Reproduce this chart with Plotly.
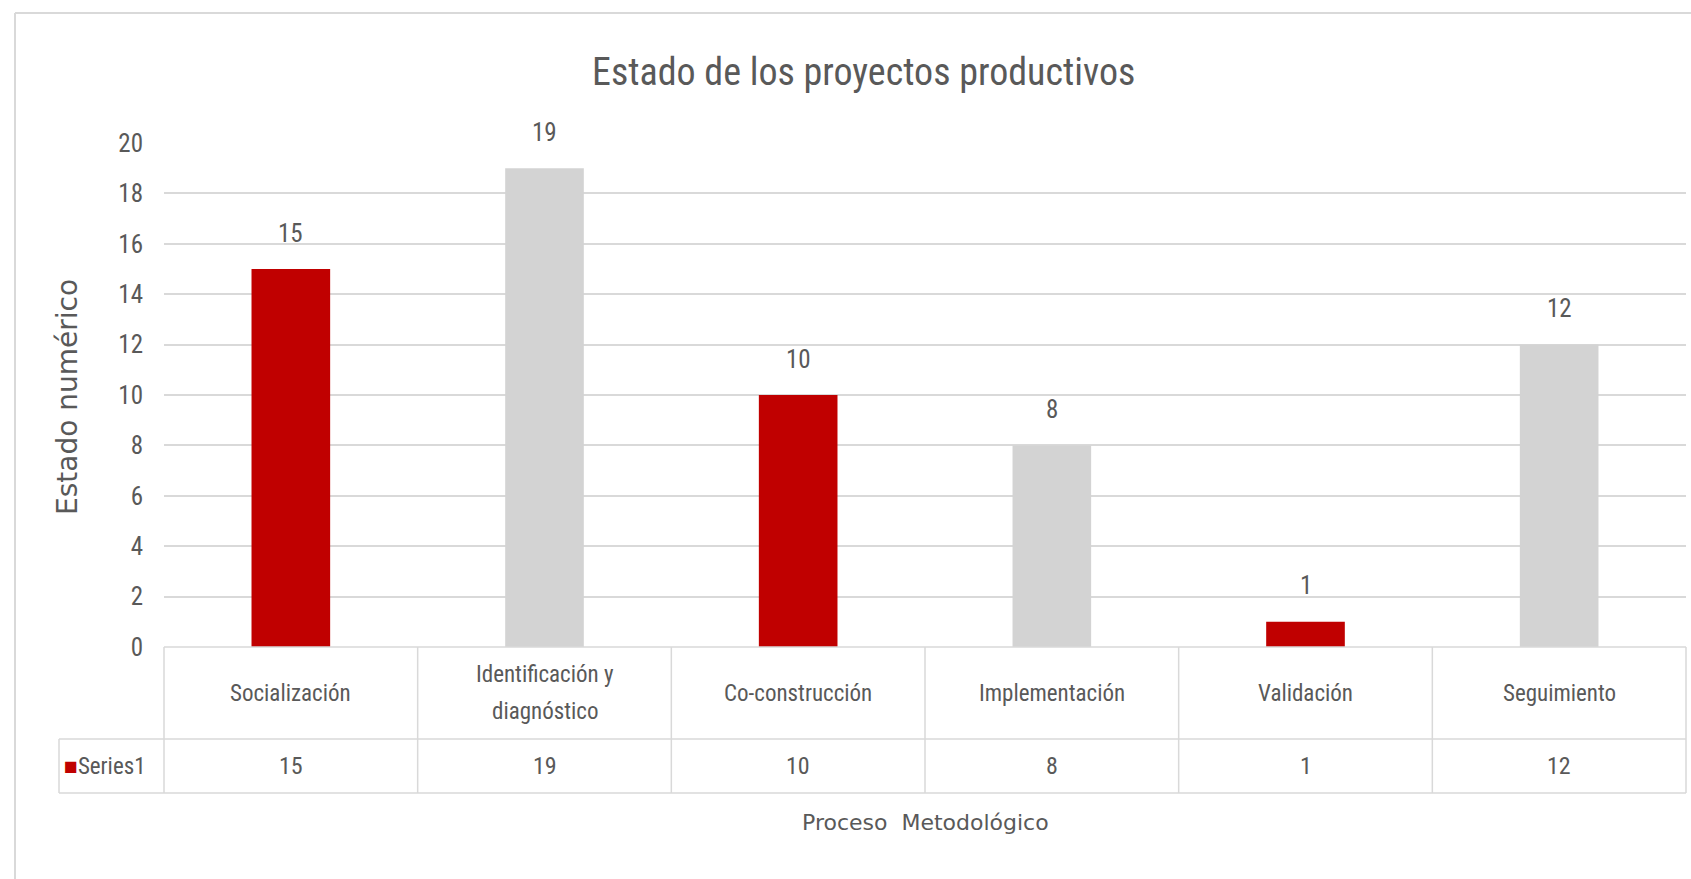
import plotly.graph_objects as go

categories = ["Socialización", "Identificación y diagnóstico", "Co-construcción",
              "Implementación", "Validación", "Seguimiento"]
cat_labels = [["Socialización"], ["Identificación y", "diagnóstico"], ["Co-construcción"],
              ["Implementación"], ["Validación"], ["Seguimiento"]]
values = [15, 19, 10, 8, 1, 12]
bar_colors = ["#C00000", "#D3D3D3", "#C00000", "#D3D3D3", "#C00000", "#D3D3D3"]
series_name = "Series1"

W, H = 1691, 879
L, R, T, B = 164, 1686, 143, 647  # plot area in pixels
PW, PH = R - L, B - T
GRID = "#D9D9D9"
TXT = "#595959"
NARROW = "Liberation Sans Narrow, Roboto Condensed, Roboto, sans-serif"
WIDE = "DejaVu Sans, Verdana, sans-serif"


def px(x):
    return (x - L) / PW


def py(y):
    return (B - y) / PH


fig = go.Figure(go.Bar(
    x=categories, y=values, marker_color=bar_colors, marker_line_width=0,
    width=0.31, name=series_name,
))

row1, row2 = 739, 793
line = dict(color=GRID, width=1.5)
shapes = [
    # chart border
    dict(type="line", xref="paper", yref="paper", x0=px(15), x1=px(W), y0=py(13), y1=py(13),
         line=dict(color=GRID, width=2)),
    dict(type="line", xref="paper", yref="paper", x0=px(15), x1=px(15), y0=py(13), y1=py(H),
         line=dict(color=GRID, width=2)),
    # data table
    dict(type="line", xref="paper", yref="paper", x0=0, x1=1, y0=0, y1=0, line=line),
    dict(type="line", xref="paper", yref="paper", x0=px(59), x1=1, y0=py(row1), y1=py(row1), line=line),
    dict(type="line", xref="paper", yref="paper", x0=px(59), x1=1, y0=py(row2), y1=py(row2), line=line),
    dict(type="line", xref="paper", yref="paper", x0=px(59), x1=px(59), y0=py(row1), y1=py(row2), line=line),
]
for i in range(len(categories) + 1):
    xv = i / len(categories)
    shapes.append(dict(type="line", xref="paper", yref="paper", x0=xv, x1=xv,
                       y0=0, y1=py(row2), line=line))

annotations = []
for cat, lab, v in zip(categories, cat_labels, values):
    # data label above bar
    annotations.append(dict(x=cat, y=v, xref="x", yref="y", text=str(v), yshift=36,
                            xanchor="center", yanchor="middle", showarrow=False,
                            font=dict(family=NARROW, size=25, color=TXT)))
    # category cell, lines spaced like the original table
    for k, part in enumerate(lab):
        shift = (len(lab) - 1) / 2 * 37 - k * 37
        annotations.append(dict(x=cat, y=py((B + row1) / 2), xref="x", yref="paper", text=part,
                                yshift=shift, xanchor="center", yanchor="middle", showarrow=False,
                                font=dict(family=NARROW, size=23, color=TXT)))
    annotations.append(dict(x=cat, y=py((row1 + row2) / 2), xref="x", yref="paper", text=str(v),
                            xanchor="center", yanchor="middle", showarrow=False,
                            font=dict(family=NARROW, size=24, color=TXT)))
annotations += [
    dict(x=px(62), y=py((row1 + row2) / 2), xref="paper", yref="paper",
         xanchor="left", yanchor="middle",
         text=f"<span style='color:#C00000'>■</span>{series_name}", showarrow=False,
         font=dict(family=NARROW, size=23, color=TXT)),
    dict(x=0.5, y=py(822), xref="paper", yref="paper", text="Proceso  Metodológico",
         xanchor="center", yanchor="middle", showarrow=False,
         font=dict(family=WIDE, size=22, color=TXT)),
    dict(x=px(67), y=py(397), xref="paper", yref="paper", text="Estado numérico", textangle=-90,
         xanchor="center", yanchor="middle", showarrow=False,
         font=dict(family=WIDE, size=28, color=TXT)),
    dict(x=px(863), y=py(72), xref="paper", yref="paper", text="Estado de los proyectos productivos",
         xanchor="center", yanchor="middle", showarrow=False,
         font=dict(family=NARROW, size=38, color=TXT)),
]

fig.update_layout(
    width=W, height=H, margin=dict(l=L, r=W - R, t=T, b=H - B, autoexpand=False),
    plot_bgcolor="white", paper_bgcolor="white", showlegend=False,
    shapes=shapes, annotations=annotations,
    xaxis=dict(showticklabels=False, showgrid=False, zeroline=False, range=[-0.5, 5.5]),
    yaxis=dict(range=[0, 20], dtick=2, showgrid=True, gridcolor=GRID, gridwidth=1.5,
               zeroline=False, ticklabelstandoff=20,
               tickfont=dict(family=NARROW, size=25, color=TXT)),
)

fig.write_html("out.html", config={"displayModeBar": False},
               post_script="document.body.style.margin='0';document.body.style.overflow='hidden';")
